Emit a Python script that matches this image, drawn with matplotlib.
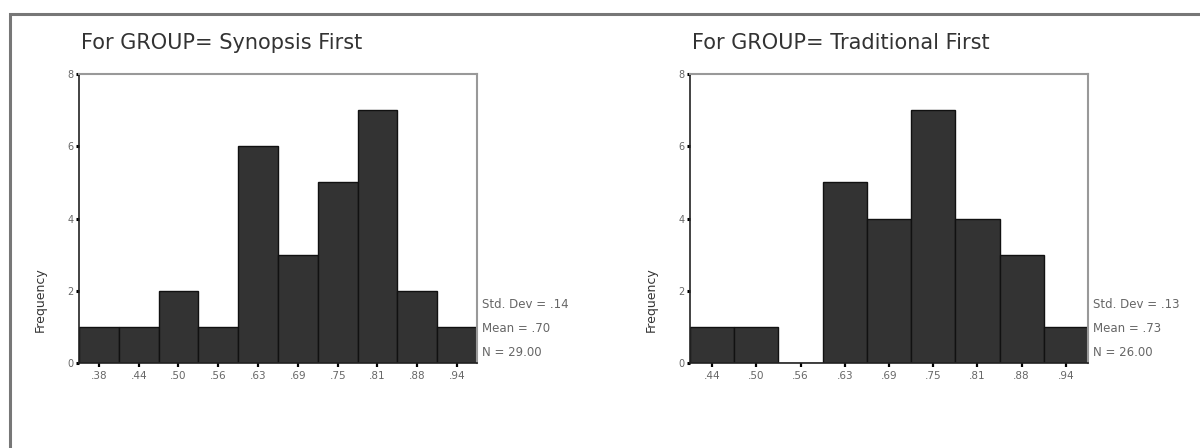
import matplotlib.pyplot as plt
from matplotlib.patches import Rectangle

plt.rcParams['font.family'] = ['DejaVu Sans']

# Synopsis First group
syn_labels = ['.38', '.44', '.50', '.56', '.63', '.69', '.75', '.81', '.88', '.94']
syn_counts = [1, 1, 2, 1, 6, 3, 5, 7, 2, 1]
syn_stats = ['Std. Dev = .14', 'Mean = .70', 'N = 29.00']

# Traditional First group
trad_labels = ['.44', '.50', '.56', '.63', '.69', '.75', '.81', '.88', '.94']
trad_counts = [1, 1, 0, 5, 4, 7, 4, 3, 1]
trad_stats = ['Std. Dev = .13', 'Mean = .73', 'N = 26.00']

W, H = 1200, 448
fig = plt.figure(figsize=(12, 4.48), dpi=100)

# outer frame of the output window
fig.patches.append(Rectangle((10 / W, -0.05), 1.2, 1 - 14 / H + 0.05,
                             transform=fig.transFigure, fill=False,
                             edgecolor='#777777', linewidth=2.2))


def draw_hist(left_px, title, labels, counts, stats):
    ax = fig.add_axes([left_px / W, 1 - 363 / H, 398 / W, 289 / H])
    x = list(range(len(counts)))
    ax.bar(x, counts, width=1.0, color='#333333', edgecolor='#111111', linewidth=1)
    ax.set_xlim(-0.5, len(counts) - 0.5)
    ax.set_ylim(0, 8)
    ax.set_yticks([0, 2, 4, 6, 8])
    ax.set_xticks(x)
    ax.set_xticklabels(labels)
    ax.tick_params(axis='y', direction='out', length=2, width=2.2, labelsize=7,
                   pad=2, labelcolor='#666666')
    ax.tick_params(axis='x', direction='out', length=3, width=1.6, labelsize=7.5,
                   pad=3, labelcolor='#666666')
    for s in ['left', 'bottom']:
        ax.spines[s].set_color('#222222')
        ax.spines[s].set_linewidth(1.2)
    for s in ['top', 'right']:
        ax.spines[s].set_color('#999999')
        ax.spines[s].set_linewidth(1.5)
    ax.set_ylabel('Frequency', fontsize=9, color='#333333')
    ax.yaxis.set_label_coords(-0.08, 0.22)
    fig.text((left_px + 2) / W, 1 - 43 / H, title, fontsize=15, color='#333333',
             va='center', ha='left')
    for i, s in enumerate(stats):
        fig.text((left_px + 403) / W, 1 - (305 + 23.5 * i) / H, s, fontsize=8.5,
                 color='#666666', va='center', ha='left')
    return ax


draw_hist(79, 'For GROUP= Synopsis First', syn_labels, syn_counts, syn_stats)
draw_hist(690, 'For GROUP= Traditional First', trad_labels, trad_counts, trad_stats)

plt.savefig('out.png', dpi=100)
